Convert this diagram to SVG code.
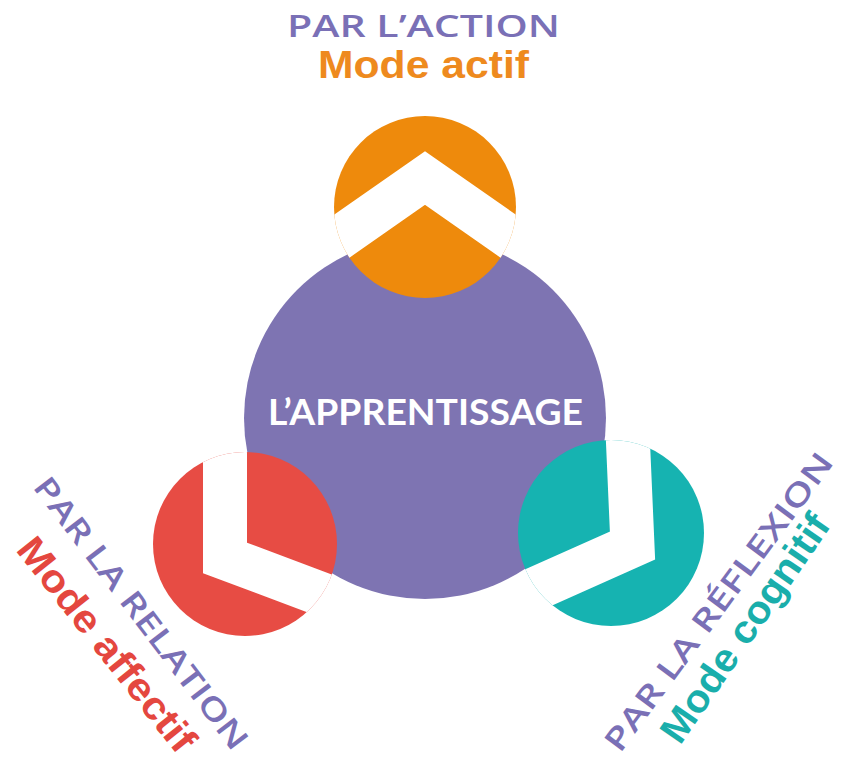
<svg xmlns="http://www.w3.org/2000/svg" width="842" height="761" viewBox="0 0 842 761">
  <style>
    .title { font-family: "Open Sans", Lato, "Liberation Sans", sans-serif; font-weight: 600; fill: #7a70b6; font-size: 31px; }
    .mode { font-family: "Liberation Sans", Arial, sans-serif; font-weight: 700; font-size: 39px; }
    .center { font-family: Lato, "Open Sans", "Liberation Sans", sans-serif; font-weight: 700; fill: #ffffff; font-size: 37px; }
    .cut { fill: none; stroke: #ffffff; stroke-width: 44; stroke-linejoin: miter; stroke-miterlimit: 10; }
  </style>
  <defs>
    <clipPath id="clipOrange"><circle cx="425" cy="207" r="91"/></clipPath>
    <clipPath id="clipRed"><circle cx="245" cy="544" r="92"/></clipPath>
    <clipPath id="clipTeal"><circle cx="611" cy="533" r="93"/></clipPath>
  </defs>
  <rect width="842" height="761" fill="#ffffff"/>

  <g id="node-center">
    <circle cx="425" cy="418" r="181" fill="#7e74b2"/>
    <text class="center" x="425.5" y="425" text-anchor="middle" textLength="315" lengthAdjust="spacingAndGlyphs">L’APPRENTISSAGE</text>
  </g>

  <g id="node-action">
    <circle cx="425" cy="207" r="91" fill="#ee8a0c"/>
    <polyline class="cut" clip-path="url(#clipOrange)" points="302,264 425,178 548,264"/>
    <text class="title" x="423.5" y="37" text-anchor="middle" textLength="273" lengthAdjust="spacingAndGlyphs">PAR L’ACTION</text>
    <text class="mode" x="423.5" y="78" text-anchor="middle" fill="#ee8a1e" textLength="211" lengthAdjust="spacingAndGlyphs">Mode actif</text>
  </g>

  <g id="node-relation">
    <circle cx="245" cy="544" r="92" fill="#e74c44"/>
    <polyline class="cut" clip-path="url(#clipRed)" points="225,420 225,558 412,628"/>
    <text class="title" transform="translate(32 487) rotate(52.9)" textLength="333" lengthAdjust="spacingAndGlyphs">PAR LA RELATION</text>
    <text class="mode" transform="translate(15 550) rotate(51.6)" fill="#e4473f" textLength="262" lengthAdjust="spacingAndGlyphs">Mode affectif</text>
  </g>

  <g id="node-reflexion">
    <circle cx="611" cy="533" r="93" fill="#16b3b1"/>
    <polyline class="cut" clip-path="url(#clipTeal)" points="627,420 632.5,545.5 450,627"/>
    <text class="title" transform="translate(620 754) rotate(-53.6)" textLength="362" lengthAdjust="spacingAndGlyphs">PAR LA RÉFLEXION</text>
    <text class="mode" transform="translate(680 746) rotate(-55.5)" fill="#1aaeab" textLength="268" lengthAdjust="spacingAndGlyphs">Mode cognitif</text>
  </g>

  <g id="connectors"/>
</svg>
